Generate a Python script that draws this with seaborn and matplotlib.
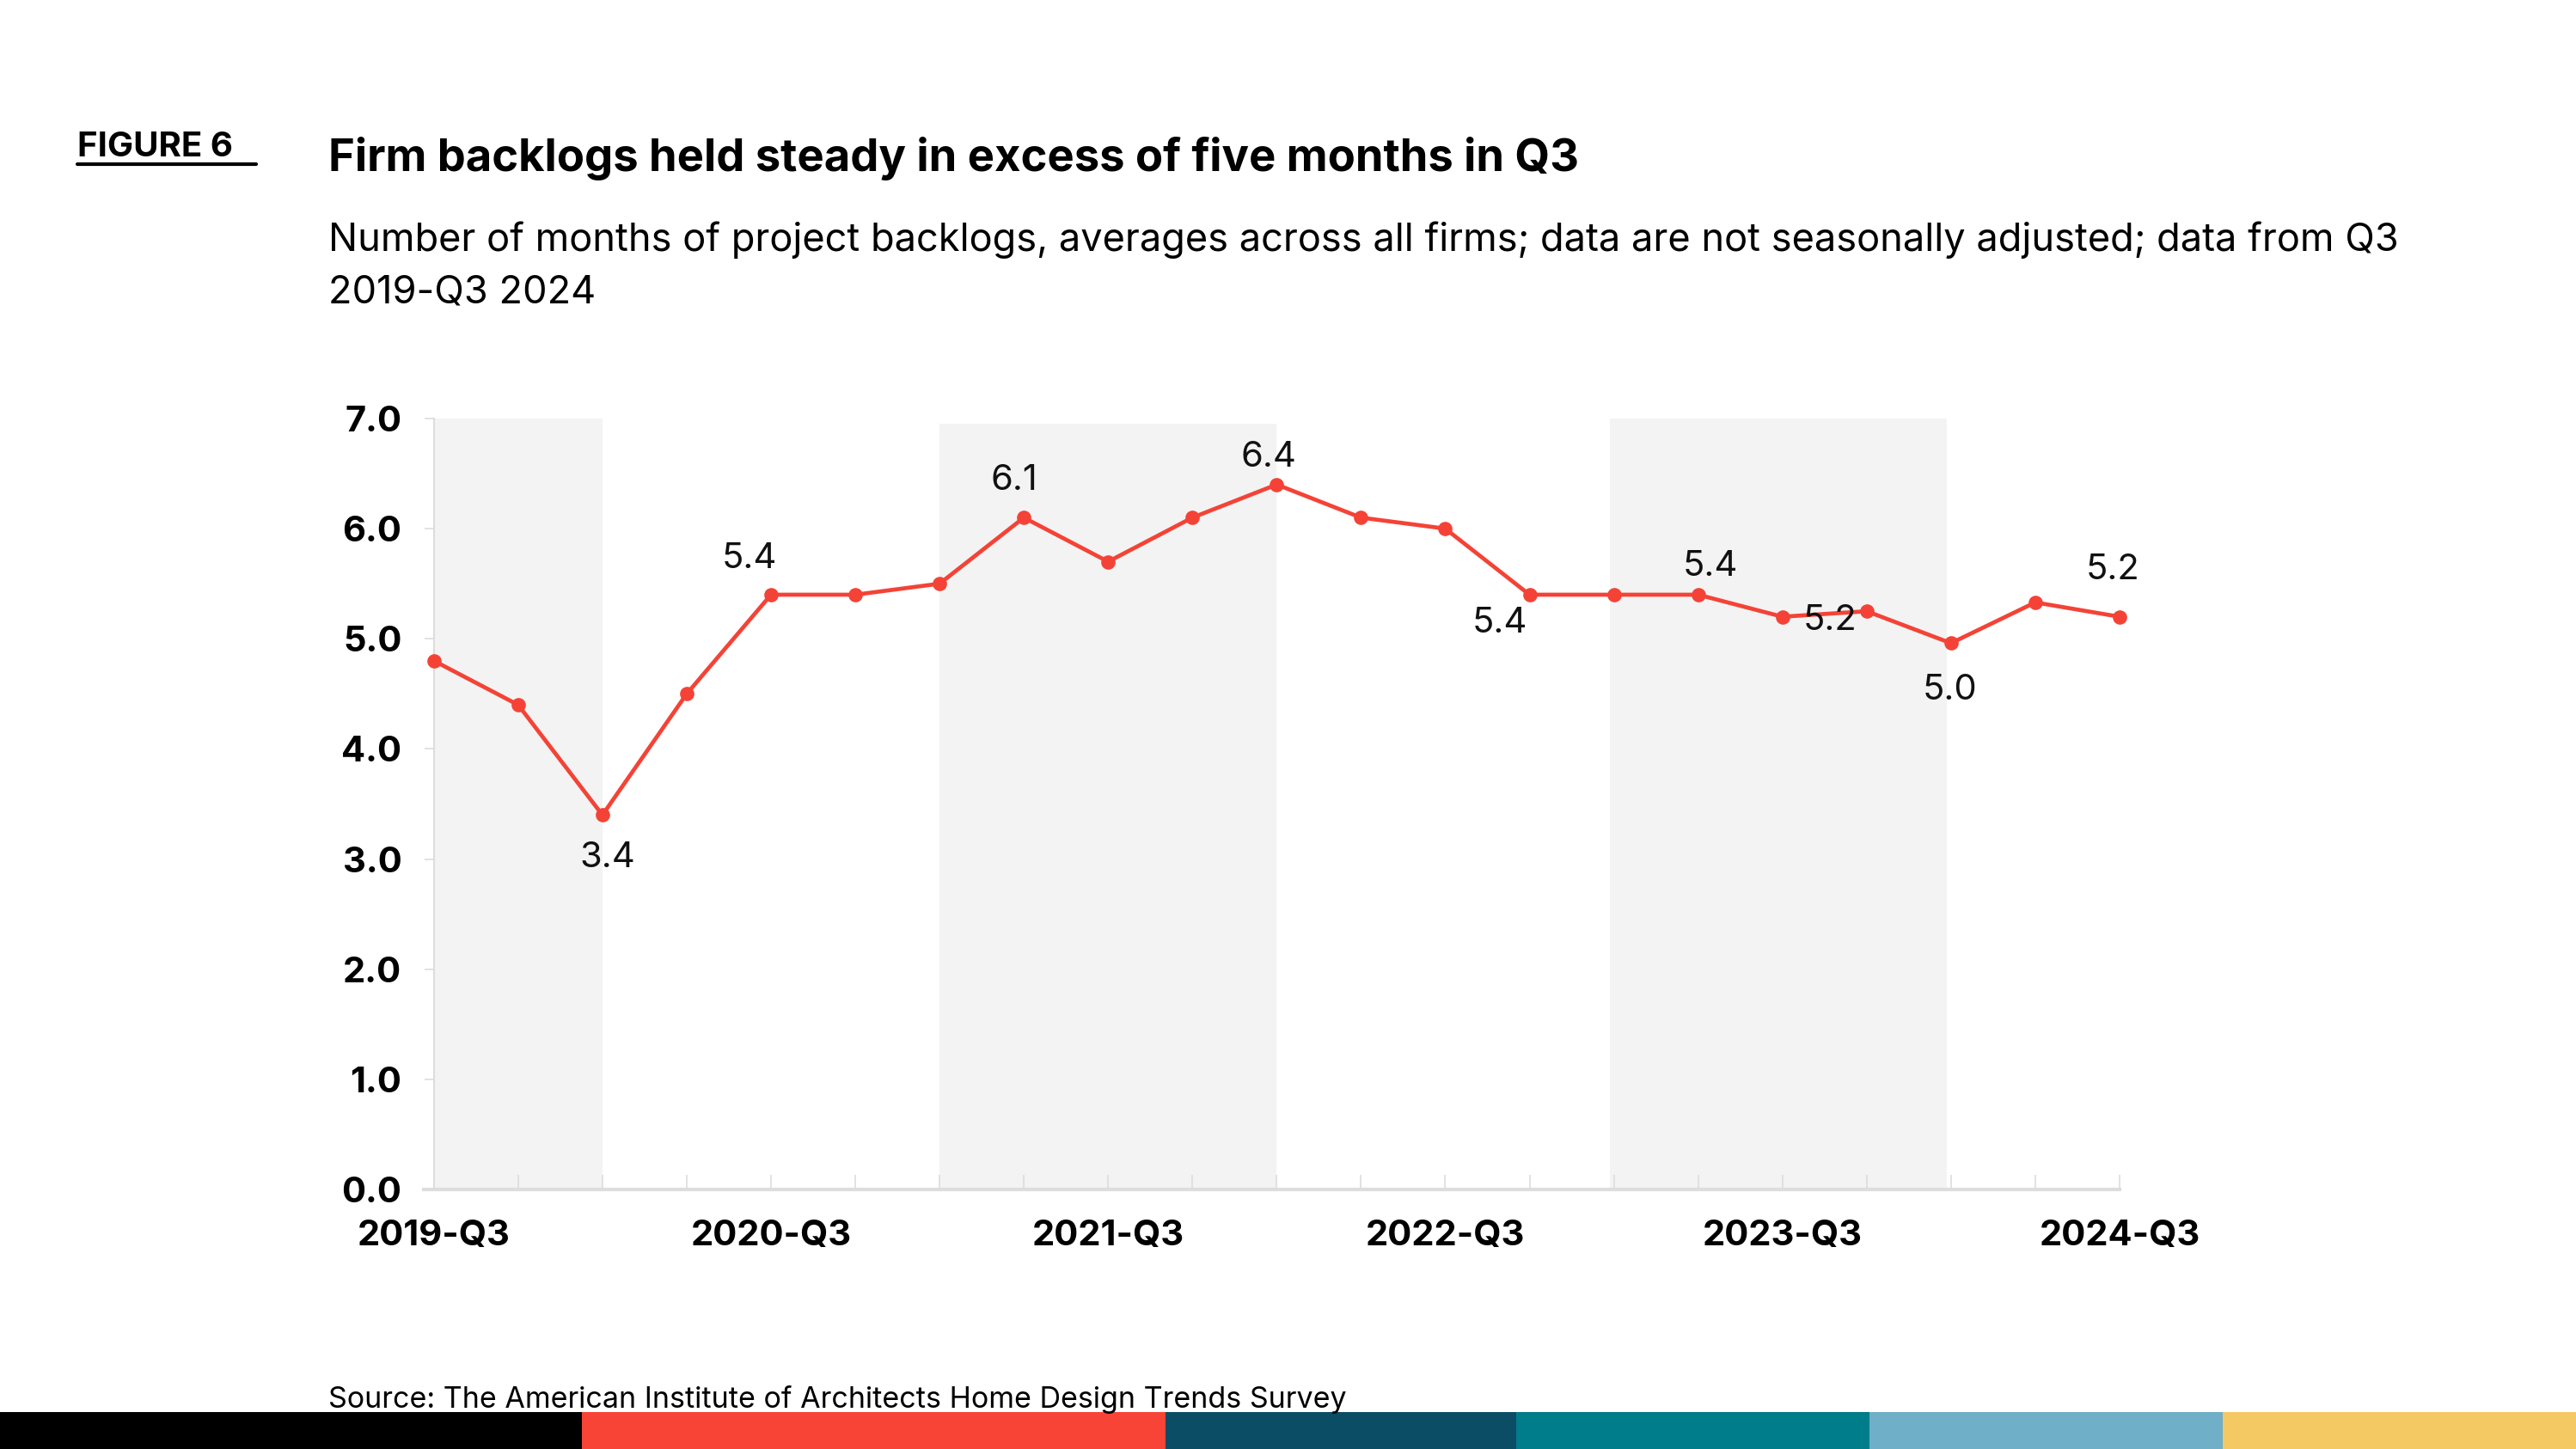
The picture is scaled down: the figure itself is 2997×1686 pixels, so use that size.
import pandas as pd
import seaborn as sns
import matplotlib.pyplot as plt
from matplotlib.lines import Line2D
from matplotlib.patches import Rectangle

# Data
quarters = ['2019-Q3', '2019-Q4', '2020-Q1', '2020-Q2', '2020-Q3', '2020-Q4', '2021-Q1',
            '2021-Q2', '2021-Q3', '2021-Q4', '2022-Q1', '2022-Q2', '2022-Q3', '2022-Q4',
            '2023-Q1', '2023-Q2', '2023-Q3', '2023-Q4', '2024-Q1', '2024-Q2', '2024-Q3']
backlog = [4.8, 4.4, 3.4, 4.5, 5.4, 5.4, 5.5, 6.1, 5.7, 6.1, 6.4,
           6.1, 6.0, 5.4, 5.4, 5.4, 5.2, 5.25, 4.96, 5.33, 5.2]

# shaded periods (start index, end index, top)
band_start = [0, 6, 13.95]
band_end = [2, 10, 17.95]
band_top = [7.0, 6.95, 7.0]

# labelled points and label offsets (points)
label_idx = [2, 4, 7, 10, 13, 15, 16, 18, 20]
label_dx = [4, -18, -8, -7, -25, 10, 40, -1, -6]
label_dy = [-36, 30.5, 31.5, 23, -24, 24, -3, -39, 39]

y_ticks = [0, 1, 2, 3, 4, 5, 6, 7]
stripe_colors = ['#000000', '#F84436', '#0B4D64', '#007D8A', '#6FAFC8', '#F4C862']
stripe_edges = [0, 0.2259, 0.4524, 0.5886, 0.7257, 0.8629, 1.0]

df = pd.DataFrame({'x': range(len(quarters)), 'quarter': quarters, 'value': backlog})

sns.set_theme(style='white')
plt.rcParams['font.family'] = ['Inter', 'DejaVu Sans']
plt.rcParams['text.color'] = 'black'
plt.rcParams['xtick.color'] = 'black'
plt.rcParams['ytick.color'] = 'black'

red = '#F44336'
fig = plt.figure(figsize=(29.97, 16.86), dpi=100)
ax = fig.add_axes([0.1645, 0.1791, 0.8228 - 0.1645, 0.7112 - 0.1791])

for s, e, t in zip(band_start, band_end, band_top):
    ax.fill_between([s, e], 0, t, color='#F3F3F3', lw=0, zorder=0)

sns.lineplot(data=df, x='x', y='value', ax=ax, color=red, linewidth=3.4,
             marker='o', markersize=12, markeredgewidth=0, zorder=3, clip_on=False)

for i, dx, dy in zip(label_idx, label_dx, label_dy):
    ax.annotate(f'{backlog[i]:.1f}', (i, backlog[i]), xytext=(dx, dy),
                textcoords='offset points', ha='center', va='center',
                fontsize=30, color='#111111', zorder=4)

# spines first (moving a spine resets tick styling)
for side in ['top', 'right']:
    ax.spines[side].set_visible(False)
ax.spines['left'].set_position(('data', 0))
ax.spines['left'].set_color('#DDDDDD')
ax.spines['left'].set_linewidth(1.5)
ax.spines['bottom'].set_color('#DDDDDD')
ax.spines['bottom'].set_linewidth(3)
ax.spines['bottom'].set_zorder(5)

ax.set_xlim(-0.12, 20)
ax.set_ylim(0, 7)
ax.set_xticks(range(len(quarters)))
ax.set_xticklabels([q if i % 4 == 0 else '' for i, q in enumerate(quarters)],
                   fontsize=30, fontweight='bold', color='black')
ax.set_yticks(y_ticks)
ax.set_yticklabels([f'{v:.1f}' for v in y_ticks], fontsize=30, fontweight='bold', color='black')
ax.tick_params(axis='x', direction='in', length=12, width=1.2, color='#DDDDDD', pad=25, bottom=True)
ax.tick_params(axis='y', direction='out', length=8, width=1.2, color='#DDDDDD', pad=19, left=True)
ax.set_xlabel('')
ax.set_ylabel('')

# header text
fig.text(0.030, 0.892, 'FIGURE 6', fontsize=29, fontweight='bold', va='baseline')
fig.add_artist(Line2D([0.030, 0.0995], [0.8865, 0.8865], color='black', lw=3))
fig.text(0.1275, 0.882, 'Firm backlogs held steady in excess of five months in Q3',
         fontsize=37.8, fontweight='bold', va='baseline')
fig.text(0.1275, 0.8268, 'Number of months of project backlogs, averages across all firms; '
         'data are not seasonally adjusted; data from Q3', fontsize=32.5, va='baseline')
fig.text(0.1275, 0.791, '2019-Q3 2024', fontsize=32.5, va='baseline')

fig.text(0.1275, 0.0285, 'Source: The American Institute of Architects Home Design Trends Survey',
         fontsize=24.5, va='baseline', zorder=5)

# coloured stripe at the bottom
for c, x0, x1 in zip(stripe_colors, stripe_edges[:-1], stripe_edges[1:]):
    fig.add_artist(Rectangle((x0, 0), x1 - x0, 0.0253, transform=fig.transFigure,
                             color=c, lw=0, zorder=1))

fig.savefig('out.png', dpi=100)
